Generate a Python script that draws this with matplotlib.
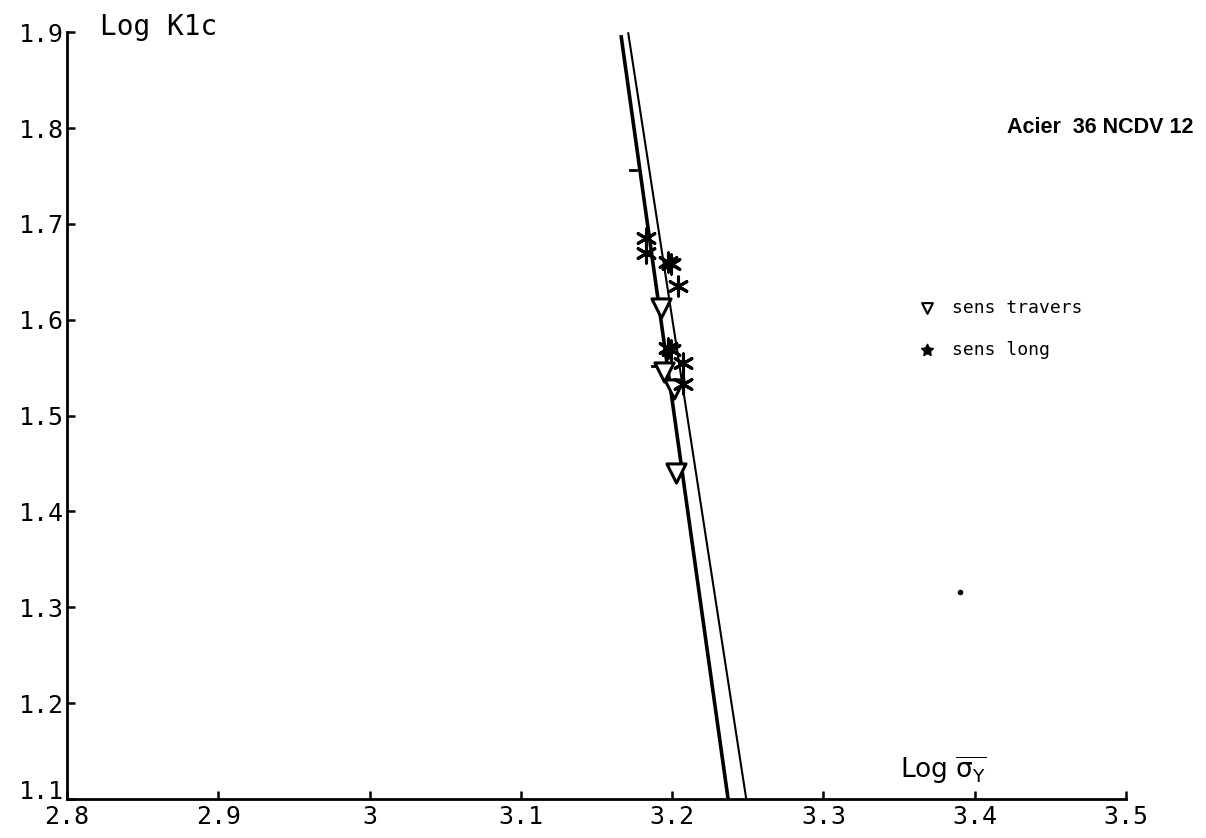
import numpy as np
import matplotlib.pyplot as plt
import matplotlib.transforms as mtransforms

# droites de regression (log sigma_y, log K1c)
droite1_x = [3.1662, 3.2370]
droite1_y = [1.897, 1.100]
droite2_x = [3.1709, 3.2490]
droite2_y = [1.900, 1.100]

# sens travers (triangles)
travers_x = [3.1927, 3.1947, 3.2026, 3.2010]
travers_y = [1.612, 1.546, 1.440, 1.528]

# sens long (etoiles)
long_x = [3.1828, 3.1828, 3.1975, 3.1990, 3.2040, 3.1975, 3.1990, 3.2073, 3.2070]
long_y = [1.685, 1.670, 1.660, 1.658, 1.635, 1.571, 1.569, 1.555, 1.533]

xticks = [2.8, 2.9, 3.0, 3.1, 3.2, 3.3, 3.4, 3.5]
xlabels = ['2.8', '2.9', '3', '3.1', '3.2', '3.3', '3.4', '3.5']
yticks = [1.1, 1.2, 1.3, 1.4, 1.5, 1.6, 1.7, 1.8, 1.9]
ylabels = ['1.1', '1.2', '1.3', '1.4', '1.5', '1.6', '1.7', '1.8', '1.9']

fig = plt.figure(figsize=(12.06, 8.38), dpi=100)
ax = fig.add_axes([0.0556, 0.0465, 0.878, 0.915])

ax.plot(droite1_x, droite1_y, color='black', lw=2.6, solid_capstyle='butt')
ax.plot(droite2_x, droite2_y, color='black', lw=1.5, solid_capstyle='butt')

ax.scatter(travers_x, travers_y, marker='v', s=190, facecolors='white',
           edgecolors='black', linewidths=2.2, zorder=3)
ax.scatter(long_x, long_y, marker=(6, 2, 0), s=190, color='black',
           linewidths=2.2, zorder=4)

# petites marques du trace
ax.plot([3.1720, 3.1760], [1.756, 1.756], color='black', lw=2)
ax.plot([3.1870, 3.1940], [1.552, 1.552], color='black', lw=2)
ax.plot([3.390], [1.316], 'o', color='black', ms=3)

ax.set_xlim(2.8, 3.5)
ax.set_ylim(1.1, 1.9)
ax.set_xticks(xticks)
ax.set_xticklabels(xlabels, fontfamily='DejaVu Sans Mono', fontsize=18)
ax.set_yticks(yticks)
ax.set_yticklabels(ylabels, fontfamily='DejaVu Sans Mono', fontsize=18)

for s in ['top', 'right']:
    ax.spines[s].set_visible(False)
for s in ['left', 'bottom']:
    ax.spines[s].set_linewidth(2)

ax.tick_params(direction='in', length=6, width=1.8)
ax.tick_params(axis='y', pad=2)
ax.tick_params(axis='x', pad=4)

# le label 1.1 est un peu remonte pour ne pas chevaucher 2.8
lab = ax.get_yticklabels()[0]
lab.set_transform(lab.get_transform() +
                  mtransforms.ScaledTranslation(0, 7 / 72, fig.dpi_scale_trans))

fig.text(0.083, 0.968, 'Log K1c', fontsize=20, family='DejaVu Sans Mono',
         va='center', ha='left')
fig.text(0.746, 0.081, r'Log $\mathregular{\overline{\sigma_Y}}$', fontsize=19,
         family='DejaVu Sans', va='center', ha='left')
fig.text(0.835, 0.848, 'Acier  36 NCDV 12', fontsize=15.5, fontweight='bold',
         family='Liberation Sans', va='center', ha='left')

# legende
ax.scatter([3.3682], [1.612], marker='v', s=60, facecolors='white',
           edgecolors='black', linewidths=1.5)
ax.text(3.3848, 1.612, 'sens travers', fontsize=13, family='DejaVu Sans Mono',
        va='center', ha='left')
ax.scatter([3.3682], [1.569], marker=(5, 1, 0), s=80, color='black')
ax.text(3.3848, 1.569, 'sens long', fontsize=13, family='DejaVu Sans Mono',
        va='center', ha='left')

fig.savefig('out.png', dpi=100)
